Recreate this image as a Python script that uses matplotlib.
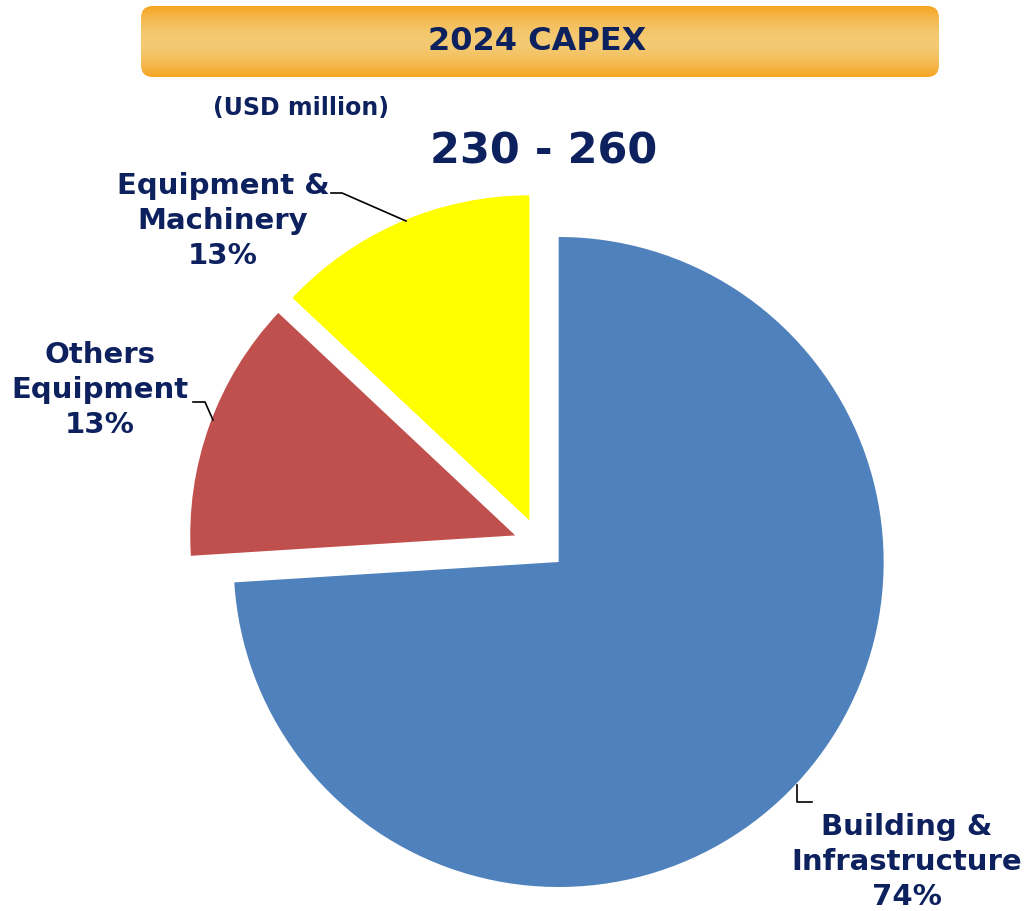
import numpy as np
import matplotlib.pyplot as plt
from matplotlib.patches import FancyBboxPatch

# data
categories = ["Building &\nInfrastructure", "Others\nEquipment", "Equipment &\nMachinery"]
shares = [74, 13, 13]
colors = ["#4F81BD", "#C0504D", "#FFFF00"]
title = "2024 CAPEX"
unit = "(USD million)"
total_range = "230 - 260"

W, H = 1028, 911
NAVY = "#0E215F"


def Y(y):
    # image y (top-down) -> axes y (bottom-up)
    return H - y


fig = plt.figure(figsize=(W / 100, H / 100), dpi=100)
ax = fig.add_axes([0, 0, 1, 1])

# explode is in data units here (pixels), all slices pulled out a bit
wedges, _ = ax.pie(shares, colors=colors, startangle=90, counterclock=False,
                   radius=325, center=(539.7, Y(544.2)),
                   explode=[26] * len(shares),
                   wedgeprops=dict(linewidth=0))

ax.set_xlim(0, W)
ax.set_ylim(0, H)
ax.set_aspect("equal")
ax.axis("off")

# title bar with vertical orange gradient
box = FancyBboxPatch((141, Y(77)), 798, 71,
                     boxstyle="round,pad=0,rounding_size=12",
                     facecolor="none", edgecolor="none")
ax.add_patch(box)
t = np.linspace(0, 1, 256)
edge = np.array([248, 162, 28]) / 255
mid = np.array([243, 202, 115]) / 255
w = np.abs(t - 0.5) * 2
grad = (mid[None, :] * (1 - w[:, None] ** 1.8) + edge[None, :] * (w[:, None] ** 1.8))
img = ax.imshow(grad[:, None, :], extent=(140, 940, Y(78), Y(5)),
                aspect="auto", zorder=1)
img.set_clip_path(box)
ax.text(537, Y(42), title, ha="center", va="center", fontsize=23,
        fontweight="bold", color=NAVY, zorder=3)

ax.text(301, Y(108), unit, ha="center", va="center", fontsize=17,
        fontweight="bold", color=NAVY)
ax.text(544, Y(152), total_range, ha="center", va="center", fontsize=31,
        fontweight="bold", color=NAVY)

# slice labels and leader lines
label_pos = [(907, 862), (100, 390), (223, 221)]
leaders = [
    [(797, 785), (797, 802), (812, 802)],
    [(193, 402), (205, 402), (213, 420)],
    [(331, 193), (342, 193), (406, 221)],
]
for cat, share, (lx, ly), pts in zip(categories, shares, label_pos, leaders):
    ax.text(lx, Y(ly), f"{cat}\n{share}%", ha="center", va="center",
            fontsize=21, fontweight="bold", color=NAVY, linespacing=1.3)
    xs, ys = zip(*pts)
    ax.plot(xs, [Y(v) for v in ys], color="black", linewidth=1.2)

fig.savefig("out.png", dpi=100)
